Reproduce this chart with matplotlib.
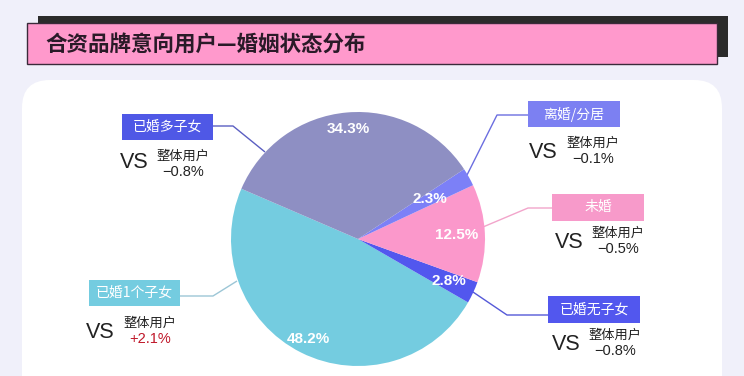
import matplotlib
matplotlib.use("Agg")
import matplotlib.pyplot as plt
from matplotlib.patches import FancyBboxPatch, Rectangle
import numpy as np

# ---- data ----
title = "合资品牌意向用户—婚姻状态分布"
categories = ["已婚1个子女", "已婚无子女", "未婚", "离婚/分居", "已婚多子女"]
shares = [48.2, 2.8, 12.5, 2.3, 34.3]
diffs = ["+2.1%", "−0.8%", "−0.5%", "−0.1%", "−0.8%"]
compare_label = "整体用户"
vs_text = "VS"

# ---- style ----
slice_colors = ["#74CCE0", "#5257EE", "#FB98CB", "#7C80F7", "#8E8FC3"]
box_colors = ["#74CCE0", "#5257EE", "#F79ACA", "#7C80F2", "#4F58E6"]
line_colors = ["#9CC6D6", "#5559D8", "#F2A5CB", "#6C6FE0", "#5B5FC2"]
diff_colors = ["#C0182A", "#222222", "#222222", "#222222", "#222222"]
label_r = [0.88, 0.79, 0.78, 0.65, 0.87]

CJK = ["Noto Sans CJK SC", "DejaVu Sans"]
LAT = ["Liberation Sans", "DejaVu Sans"]

W, H = 744, 376
fig = plt.figure(figsize=(W / 100, H / 100), dpi=100)
fig.patch.set_facecolor("#F0F0FA")
ax = fig.add_axes([0, 0, 1, 1])
ax.set_facecolor("#F0F0FA")

def Y(y):
    return H - y

# white card
card = FancyBboxPatch((22, Y(420)), 700, 340, boxstyle="round,pad=0,rounding_size=28",
                      fc="white", ec="none", zorder=1)
ax.add_patch(card)

# title bar
ax.add_patch(Rectangle((38, Y(57)), 690, 41, fc="#2B2B2B", ec="none", zorder=2))
ax.add_patch(Rectangle((27, Y(64)), 690, 41, fc="#FF99CC", ec="#3A2A3A", lw=1.0, zorder=3))
ax.text(45, Y(45), title, family=CJK, fontsize=15.5, fontweight="bold",
        color="#2A1A28", va="center", ha="left", zorder=4)

# pie
cx, cy, R = 358, Y(239), 127
start = 156.7
wedges, _ = ax.pie(shares, colors=slice_colors, startangle=start, counterclock=True,
                   center=(cx, cy), radius=R, frame=True,
                   wedgeprops=dict(linewidth=0, zorder=5))
for w in wedges:
    w.set_zorder(5)

for w, s, rf in zip(wedges, shares, label_r):
    mid = np.deg2rad((w.theta1 + w.theta2) / 2)
    ax.text(cx + rf * R * np.cos(mid), cy + rf * R * np.sin(mid), f"{s}%",
            family=LAT, fontsize=11, fontweight="bold", color="white",
            ha="center", va="center", zorder=6)

# callouts
layout = [
    dict(box=(89, 180, 280, 306), pts=[(180, 296), (213, 296), (237, 281)],
         vs=(100, 332), cmp=(150, 323)),
    dict(box=(548, 640, 296, 323), pts=[(548, 315), (507, 315), (470, 290)],
         vs=(566, 345), cmp=(615, 335)),
    dict(box=(552, 644, 194, 221), pts=[(552, 208), (528, 208), (483, 227)],
         vs=(569, 243), cmp=(618, 233)),
    dict(box=(528, 620, 101, 127), pts=[(528, 115), (497, 115), (467, 175)],
         vs=(543, 152), cmp=(593, 143)),
    dict(box=(122, 213, 114, 140), pts=[(213, 126), (233, 126), (265, 152)],
         vs=(134, 163), cmp=(183, 156)),
]

for cat, d, bc, lc, dc, L in zip(categories, diffs, box_colors, line_colors, diff_colors, layout):
    x0, x1, yt, yb = L["box"]
    ax.add_patch(Rectangle((x0, Y(yb)), x1 - x0, yb - yt, fc=bc, ec="none", zorder=4))
    ax.text((x0 + x1) / 2, Y((yt + yb) / 2), cat, family=CJK, fontsize=10,
            color="white", ha="center", va="center", zorder=5)
    xs = [p[0] for p in L["pts"]]
    ys = [Y(p[1]) for p in L["pts"]]
    ax.plot(xs, ys, color=lc, lw=1.0, zorder=4, solid_capstyle="butt")
    vx, vy = L["vs"]
    ax.text(vx, Y(vy), vs_text, family=LAT, fontsize=15.5, color="#222222",
            ha="center", va="center", zorder=5)
    mx, my = L["cmp"]
    ax.text(mx, Y(my), compare_label, family=CJK, fontsize=9.5, color="#222222",
            ha="center", va="center", zorder=5)
    ax.text(mx, Y(my + 16), d, family=LAT, fontsize=10.5, color=dc,
            ha="center", va="center", zorder=5)

ax.set_xlim(0, W)
ax.set_ylim(0, H)
ax.set_aspect("auto")
ax.axis("off")

fig.savefig("out.png", dpi=100, facecolor=fig.get_facecolor())
